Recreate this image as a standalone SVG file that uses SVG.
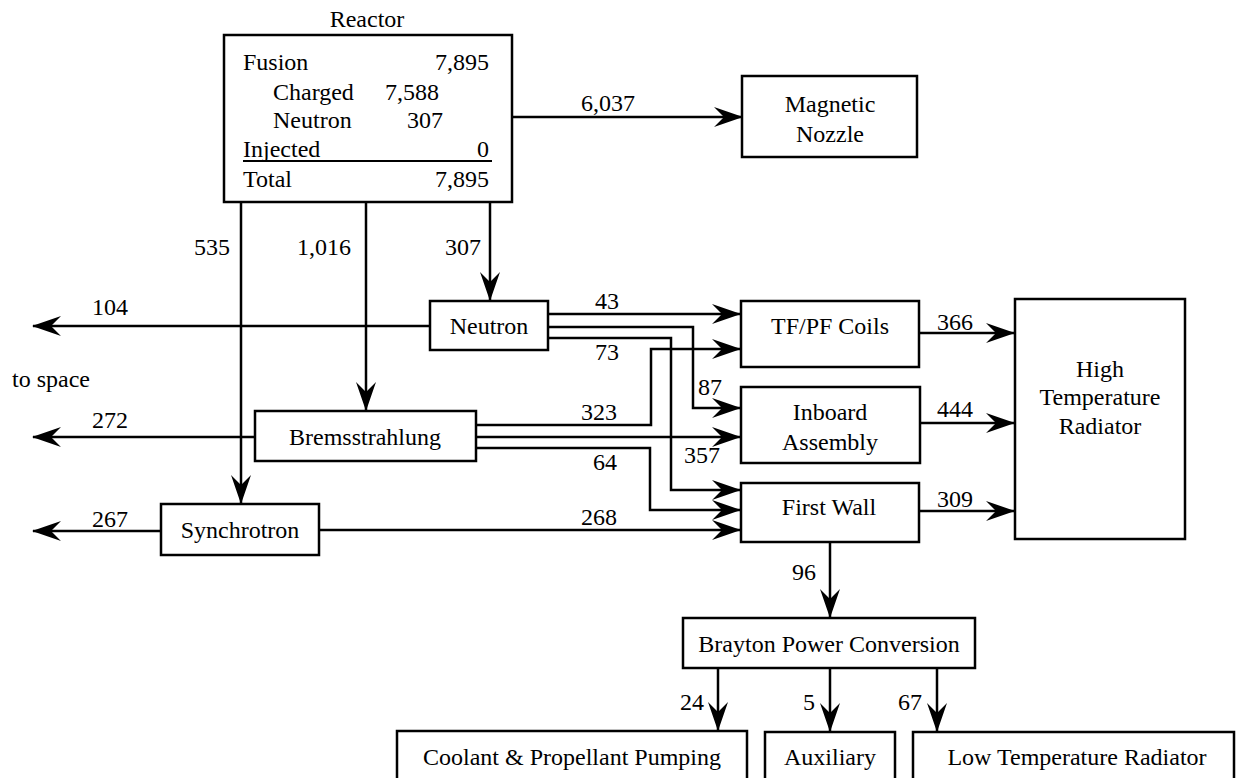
<svg xmlns="http://www.w3.org/2000/svg" width="1237" height="778" viewBox="0 0 1237 778">
<style>
text{font-family:"Liberation Serif","Times New Roman",serif;font-size:24px;fill:#000}
.c{text-anchor:middle}
.r{text-anchor:end}
.box{fill:#fff;stroke:#000;stroke-width:2.5}
.ln{fill:none;stroke:#000;stroke-width:2.5;marker-end:url(#ah)}
</style>
<defs>
<marker id="ah" markerUnits="userSpaceOnUse" viewBox="-30 -12 32 24" refX="0" refY="0" markerWidth="32" markerHeight="24" orient="auto">
<path d="M1,0 L-28,-10 L-18,0 L-28,10 Z" fill="#000"/>
</marker>
</defs>
<rect width="1237" height="778" fill="#fff"/>
<g id="connectors">
<path class="ln" d="M512,117 H742"/>
<path class="ln" d="M490,202 V300"/>
<path class="ln" d="M366,202 V410"/>
<path class="ln" d="M241,202 V503"/>
<path class="ln" d="M430,326 H33"/>
<path class="ln" d="M255,437 H33"/>
<path class="ln" d="M161,531 H33"/>
<path class="ln" d="M548,314 H740"/>
<path class="ln" d="M548,327 H693 V408 H740"/>
<path class="ln" d="M548,338 H671 V490 H740"/>
<path class="ln" d="M476,425 H651 V349 H740"/>
<path class="ln" d="M476,437 H740"/>
<path class="ln" d="M476,448 H650 V510 H740"/>
<path class="ln" d="M319,530 H740"/>
<path class="ln" d="M919,333 H1014"/>
<path class="ln" d="M920,423 H1014"/>
<path class="ln" d="M919,511 H1014"/>
<path class="ln" d="M830,542 V617"/>
<path class="ln" d="M718,668 V730"/>
<path class="ln" d="M830,668 V731"/>
<path class="ln" d="M937,668 V731"/>
<text class="c" x="608" y="111">6,037</text>
<text class="c" x="463" y="255">307</text>
<text class="c" x="324" y="255">1,016</text>
<text class="c" x="212" y="255">535</text>
<text class="c" x="110" y="315">104</text>
<text class="c" x="110" y="428">272</text>
<text class="c" x="110" y="527">267</text>
<text x="12" y="387">to space</text>
<text class="c" x="607" y="309">43</text>
<text class="c" x="710" y="395">87</text>
<text class="c" x="607" y="360">73</text>
<text class="c" x="599" y="420">323</text>
<text class="c" x="702" y="463">357</text>
<text class="c" x="605" y="470">64</text>
<text class="c" x="599" y="525">268</text>
<text class="c" x="955" y="330">366</text>
<text class="c" x="955" y="417">444</text>
<text class="c" x="955" y="507">309</text>
<text class="c" x="804" y="580">96</text>
<text class="r" x="704" y="710">24</text>
<text class="r" x="815" y="710">5</text>
<text class="r" x="922" y="710">67</text>
</g>
<g id="reactor">
<text class="c" x="367" y="27">Reactor</text>
<rect class="box" x="224" y="35" width="288" height="167"/>
<text x="243" y="70">Fusion</text>
<text class="r" x="489" y="70">7,895</text>
<text x="273" y="100">Charged</text>
<text class="r" x="439" y="100">7,588</text>
<text x="273" y="128">Neutron</text>
<text class="r" x="443" y="128">307</text>
<text x="243" y="157">Injected</text>
<text class="r" x="489" y="157">0</text>
<line x1="243" y1="161" x2="492" y2="161" stroke="#000" stroke-width="2"/>
<text x="243" y="187">Total</text>
<text class="r" x="489" y="187">7,895</text>
</g>
<g id="nozzle">
<rect class="box" x="742" y="76" width="175" height="81"/>
<text class="c" x="830" y="112">Magnetic</text>
<text class="c" x="830" y="142">Nozzle</text>
</g>
<g id="neutron">
<rect class="box" x="430" y="301" width="118" height="49"/>
<text class="c" x="489" y="334">Neutron</text>
</g>
<g id="brems">
<rect class="box" x="255" y="411" width="221" height="50"/>
<text class="c" x="365" y="445">Bremsstrahlung</text>
</g>
<g id="synchrotron">
<rect class="box" x="161" y="504" width="158" height="51"/>
<text class="c" x="240" y="538">Synchrotron</text>
</g>
<g id="tfpf">
<rect class="box" x="741" y="301" width="178" height="66"/>
<text class="c" x="830" y="334">TF/PF Coils</text>
</g>
<g id="inboard">
<rect class="box" x="741" y="387" width="179" height="76"/>
<text class="c" x="830" y="420">Inboard</text>
<text class="c" x="830" y="450">Assembly</text>
</g>
<g id="firstwall">
<rect class="box" x="741" y="483" width="178" height="59"/>
<text class="c" x="829" y="515">First Wall</text>
</g>
<g id="htr">
<rect class="box" x="1015" y="299" width="170" height="240"/>
<text class="c" x="1100" y="377">High</text>
<text class="c" x="1100" y="405">Temperature</text>
<text class="c" x="1100" y="434">Radiator</text>
</g>
<g id="brayton">
<rect class="box" x="683" y="618" width="292" height="50"/>
<text class="c" x="829" y="652">Brayton Power Conversion</text>
</g>
<g id="coolant">
<rect class="box" x="397" y="731" width="350" height="60"/>
<text class="c" x="572" y="765">Coolant &amp; Propellant Pumping</text>
</g>
<g id="auxiliary">
<rect class="box" x="765" y="732" width="130" height="60"/>
<text class="c" x="830" y="765">Auxiliary</text>
</g>
<g id="ltr">
<rect class="box" x="913" y="732" width="321" height="60"/>
<text class="c" x="1077" y="765">Low Temperature Radiator</text>
</g>
</svg>
